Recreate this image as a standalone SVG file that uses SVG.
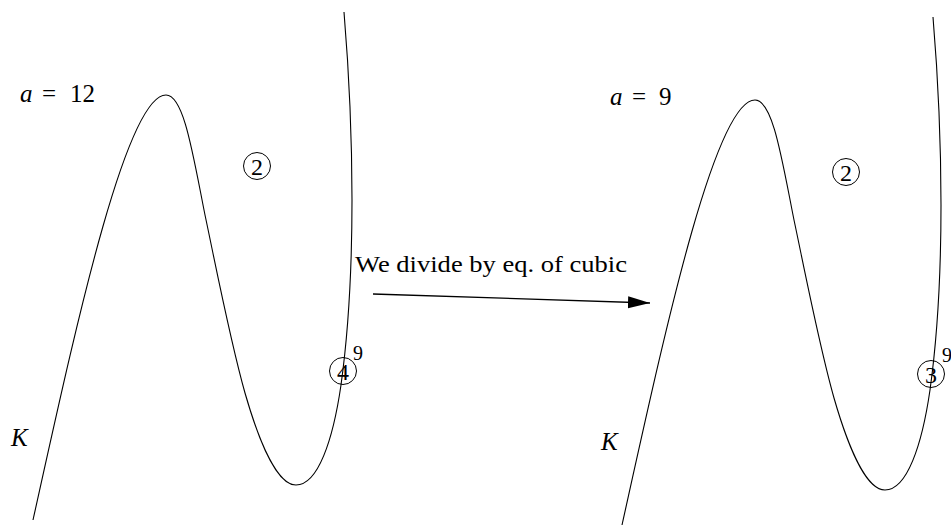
<svg xmlns="http://www.w3.org/2000/svg" width="951" height="525" viewBox="0 0 951 525">
<style>
.c{fill:none;stroke:#000;stroke-width:1.1}
.o{fill:none;stroke:#000;stroke-width:1}
text{fill:#000;font-family:'Liberation Serif','Times New Roman',serif}
.i{font-style:italic}
.d{font-size:24px;text-anchor:middle}
.sup{font-size:20px}
.eq{font-size:25px}
</style>
<defs>
<path id="cubic" d="M33,520 C73,340 125,95 166,95 C184,95 193,155 205,215 C215,262 230,340 245,393 C260,445 278,485 296,485 C318,485 333,440 341,385 C350,320 352,250 352,200 C352,130 348,60 344,12"/>
<marker id="ah" markerWidth="22" markerHeight="14" refX="22" refY="7" orient="auto" markerUnits="userSpaceOnUse">
<path d="M0,1 L22,7 L0,13 Z" fill="#000"/>
</marker>
</defs>
<g id="left">
<use href="#cubic" class="c"/>
<text class="eq" y="102"><tspan x="20" class="i">a</tspan><tspan x="42">=</tspan><tspan x="70">12</tspan></text>
<text class="i" x="11" y="446" font-size="25">K</text>
<g id="l2"><circle class="o" cx="257" cy="166" r="13.5"/><text class="d" x="257" y="174.5">2</text></g>
<g id="l4"><circle class="o" cx="343" cy="371" r="13.5"/><text class="d" x="343" y="379.5">4</text></g>
<text class="sup" x="353" y="360">9</text>
</g>
<g id="right">
<use href="#cubic" class="c" transform="translate(589,5)"/>
<text class="eq" y="105"><tspan x="610" class="i">a</tspan><tspan x="632">=</tspan><tspan x="659">9</tspan></text>
<text class="i" x="601" y="450" font-size="25">K</text>
<g id="r2"><circle class="o" cx="846" cy="172" r="13.5"/><text class="d" x="846" y="180.5">2</text></g>
<g id="r3"><circle class="o" cx="931" cy="374" r="13.5"/><text class="d" x="931" y="382.5">3</text></g>
<text class="sup" x="942" y="362">9</text>
</g>
<g id="connectors">
<line x1="373" y1="294" x2="650" y2="303" stroke="#000" stroke-width="1.3" marker-end="url(#ah)"/>
<text x="355" y="272" font-size="23" textLength="272" lengthAdjust="spacingAndGlyphs">We divide by eq. of cubic</text>
</g>
</svg>
